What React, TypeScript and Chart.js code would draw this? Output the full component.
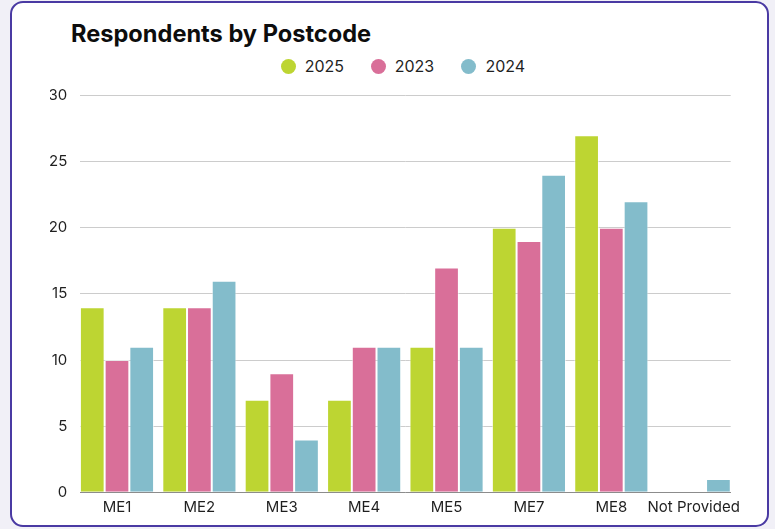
import React, { useEffect, useRef } from "react";
import { Chart, registerables } from "chart.js";

Chart.register(...registerables);

const categories = ["ME1", "ME2", "ME3", "ME4", "ME5", "ME7", "ME8", "Not Provided"];
const series2025 = [14, 14, 7, 7, 11, 20, 27, 0];
const series2023 = [10, 14, 9, 11, 17, 19, 20, 0];
const series2024 = [11, 16, 4, 11, 11, 24, 22, 1];
const seriesNames = ["2025", "2023", "2024"];
const seriesValues = [series2025, series2023, series2024];
const seriesColors = ["#bdd532", "#d96f99", "#83bccb"];
const yMin = 0;
const yMax = 30;
const yStep = 5;
const titleText = "Respondents by Postcode";

const FONT = "Inter, 'Liberation Sans', Arial, sans-serif";

export default function App() {
  const ref = useRef<HTMLCanvasElement>(null);

  useEffect(() => {
    const canvas = ref.current!;
    const half = 0.449;
    const datasets = seriesNames.map((name, si) => ({
      label: name,
      data: seriesValues[si].map((v, i) => ({ x: i, y: v })),
      backgroundColor: seriesColors[si],
      borderColor: "rgba(255,255,255,0.55)",
      borderWidth: (c: any) => (c.raw && c.raw.y === 0 ? 0 : 1),
      borderSkipped: "bottom" as const,
      categoryPercentage: 0.9,
      barPercentage: 1,
    }));
    const chart = new Chart(canvas, {
      type: "bar",
      data: { datasets } as any,
      options: {
        animation: false,
        responsive: false,
        layout: { padding: { left: 50, right: 44.3, top: 95.5, bottom: 6.7 } },
        plugins: {
          legend: { display: false },
          title: { display: false },
          tooltip: { enabled: false },
        },
        scales: {
          x: {
            type: "linear",
            min: -half,
            max: categories.length - 1 + half,
            offset: false,
            grid: { display: false, drawTicks: false },
            border: { display: true, color: "#8c8c8c", width: 1 },
            ticks: {
              stepSize: 1,
              includeBounds: false,
              autoSkip: false,
              maxRotation: 0,
              minRotation: 0,
              padding: 6.5,
              color: "#1f1f1f",
              font: { family: FONT, size: 15 },
              callback: (v: any) => (Number.isInteger(v) ? categories[v] ?? "" : ""),
            },
            afterFit: (s: any) => {
              s.height = 30;
            },
          },
          y: {
            min: yMin,
            max: yMax,
            grid: { color: "#cccccc", lineWidth: 1, drawTicks: false },
            border: { display: false },
            ticks: {
              stepSize: yStep,
              padding: 12.7,
              color: "#1f1f1f",
              font: { family: FONT, size: 15 },
            },
            afterFit: (s: any) => {
              s.width = 30;
            },
          },
        },
      } as any,
    });
    return () => chart.destroy();
  }, []);

  const legendLefts = [280.7, 370.7, 461.4];

  return (
    <div
      style={{
        position: "fixed",
        left: 0,
        top: 0,
        width: 775,
        height: 529,
        background: "#f1f0f7",
        overflow: "hidden",
      }}
    >
      <div
        style={{
          position: "absolute",
          left: 10,
          top: 1,
          width: 759,
          height: 526,
          boxSizing: "border-box",
          border: "2px solid #4a3aa3",
          borderRadius: 13,
          background: "#ffffff",
        }}
      />
      <div
        style={{
          position: "absolute",
          left: 71,
          top: 21.5,
          fontFamily: FONT,
          fontWeight: 700,
          fontSize: 23.6,
          lineHeight: "23.6px",
          color: "#0d0d0d",
          whiteSpace: "nowrap",
        }}
      >
        {titleText}
      </div>
      {seriesNames.map((name, i) => (
        <div
          key={name}
          style={{
            position: "absolute",
            left: legendLefts[i],
            top: 56,
            height: 20,
            display: "flex",
            alignItems: "center",
            fontFamily: FONT,
            fontSize: 16,
            color: "#1f1f1f",
            whiteSpace: "nowrap",
          }}
        >
          <span
            style={{
              display: "inline-block",
              width: 15,
              height: 15,
              borderRadius: "50%",
              background: seriesColors[i],
              marginRight: 9,
            }}
          />
          <span>{name}</span>
        </div>
      ))}
      <canvas
        ref={ref}
        width={775}
        height={529}
        style={{ position: "absolute", left: 0, top: 0, width: 775, height: 529 }}
      />
    </div>
  );
}
